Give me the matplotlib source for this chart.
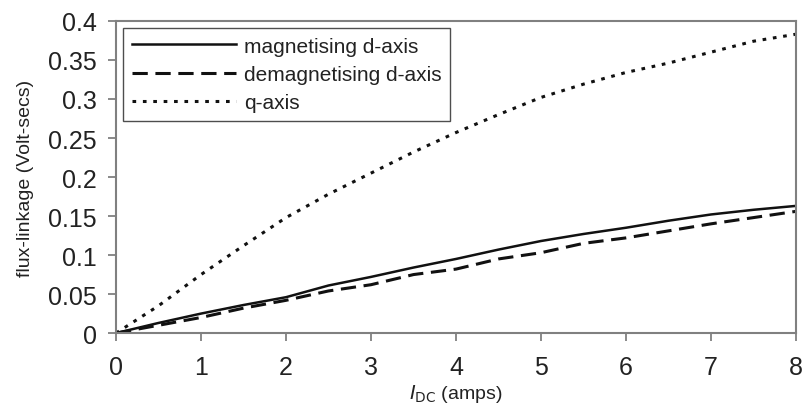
#!/usr/bin/env python3
"""Flux-linkage vs DC current for d- and q-axis."""

import matplotlib
matplotlib.use("Agg")
import matplotlib.pyplot as plt
import matplotlib.ticker as mticker

X_MAG = [0, 0.5, 1, 1.5, 2, 2.5, 3, 3.5, 4, 4.5, 5, 5.5, 6, 6.5, 7, 7.5, 8]
Y_MAG = [0, 0.013, 0.025, 0.036, 0.046, 0.061, 0.072, 0.084, 0.095, 0.107, 0.118,
         0.127, 0.135, 0.144, 0.152, 0.158, 0.163]

X_DEMAG = [0, 0.5, 1, 1.5, 2, 2.5, 3, 3.5, 4, 4.5, 5, 5.5, 6, 6.5, 7, 7.5, 8]
Y_DEMAG = [0, 0.010, 0.020, 0.032, 0.042, 0.054, 0.062, 0.075, 0.082, 0.095, 0.103,
           0.115, 0.122, 0.131, 0.140, 0.148, 0.156]

X_Q = [0, 0.5, 1, 1.5, 2, 2.5, 3, 3.5, 4, 4.5, 5, 5.5, 6, 6.5, 7, 7.5, 8]
Y_Q = [0, 0.035, 0.075, 0.112, 0.148, 0.178, 0.205, 0.232, 0.257, 0.280, 0.302,
       0.319, 0.334, 0.346, 0.360, 0.374, 0.383]

plt.rcParams["font.family"] = ["Liberation Sans", "DejaVu Sans"]

fig = plt.figure(figsize=(8.04, 4.14), dpi=100)
ax = fig.add_axes([0.1443, 0.193, 0.8457, 0.754])

ax.plot(X_MAG, Y_MAG, color="#111111", linestyle="-", linewidth=1.8,
        label="magnetising d-axis")
ax.plot(X_DEMAG, Y_DEMAG, color="#111111", linestyle=(0, (5, 2.5)), linewidth=2.2,
        label="demagnetising d-axis")
ax.plot(X_Q, Y_Q, color="#111111", linestyle=(0, (1.2, 2.2)), linewidth=2.2,
        label="q-axis")

ax.set_xlim(0, 8)
ax.set_ylim(0, 0.4)
ax.xaxis.set_major_locator(mticker.MultipleLocator(1))
ax.yaxis.set_major_locator(mticker.MultipleLocator(0.05))
ax.yaxis.set_major_formatter(mticker.FormatStrFormatter("%g"))

for s in ax.spines.values():
    s.set_color("#808080")
    s.set_linewidth(1.5)
ax.tick_params(axis="both", colors="#808080", labelcolor="#222222",
               labelsize=18, length=6, width=1.3)
ax.tick_params(axis="x", pad=10)
ax.tick_params(axis="y", pad=8)

ax.set_ylabel("flux-linkage (Volt-secs)", fontsize=14, color="#222222", labelpad=10)
ax.set_xlabel(r"$I$$_{\mathrm{DC}}$ (amps)", fontsize=14, color="#222222", labelpad=2)

leg = ax.legend(loc="upper left", fontsize=15, frameon=True, fancybox=False,
                handlelength=5.0, handletextpad=0.4, borderaxespad=0.35,
                labelspacing=0.45, borderpad=0.4)
leg.get_frame().set_edgecolor("#222222")
leg.get_frame().set_linewidth(1.0)
for t in leg.get_texts():
    t.set_color("#222222")

fig.savefig("out.png", dpi=100)
